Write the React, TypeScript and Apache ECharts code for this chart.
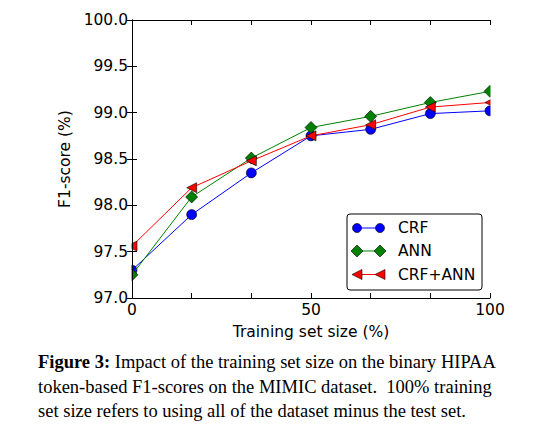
import { useEffect, useRef } from 'react';
import * as echarts from 'echarts';

const SANS = "'DejaVu Sans', 'Bitstream Vera Sans', sans-serif";
const SERIF = "'Liberation Serif', 'Times New Roman', serif";

// training set size (%), 7 steps of 1/6
const trainSizes = [0, 16.667, 33.333, 50, 66.667, 83.333, 100];
const seriesNames = ['CRF', 'ANN', 'CRF+ANN'];
const crfScores = [97.3, 97.9, 98.35, 98.75, 98.82, 98.99, 99.02];
const annScores = [97.25, 98.09, 98.51, 98.84, 98.96, 99.11, 99.23];
const crfAnnScores = [97.56, 98.19, 98.48, 98.75, 98.87, 99.06, 99.11];
const seriesColors = ['#0000ff', '#008000', '#ff0000'];

const captionLines = [
  '{b|Figure 3:} Impact of the training set size on the binary HIPAA',
  'token-based F1-scores on the MIMIC dataset.  100% training',
  'set size refers to using all of the dataset minus the test set.',
];

const tickFont = { fontFamily: SANS, fontSize: 15.5, color: '#000' };

function frame(extra: Record<string, unknown>) {
  return {
    type: 'value',
    z: 10,
    axisLine: { show: true, lineStyle: { color: '#000', width: 1 } },
    axisTick: { show: true, inside: true, length: 5, lineStyle: { color: '#000', width: 1 } },
    splitLine: { show: false },
    ...extra,
  };
}

function legendGraphic() {
  const left = 347;
  const top = 214;
  const rows = [228, 251, 274.5];
  const children: any[] = [
    {
      type: 'rect',
      shape: { x: left, y: top, width: 135, height: 76, r: 3 },
      style: { fill: '#fff', stroke: '#000', lineWidth: 1 },
    },
  ];
  rows.forEach((y, i) => {
    const color = seriesColors[i];
    const x1 = 357;
    const x2 = 380;
    children.push({
      type: 'line',
      shape: { x1, y1: y, x2, y2: y },
      style: { stroke: color, lineWidth: 1 },
    });
    [x1, x2].forEach((x) => {
      if (i === 0) {
        children.push({
          type: 'circle',
          shape: { cx: x, cy: y, r: 4.5 },
          style: { fill: color, stroke: '#000', lineWidth: 0.6 },
        });
      } else if (i === 1) {
        children.push({
          type: 'polygon',
          shape: { points: [[x - 6, y], [x, y - 6], [x + 6, y], [x, y + 6]] },
          style: { fill: color, stroke: '#000', lineWidth: 0.6 },
        });
      } else {
        children.push({
          type: 'polygon',
          shape: { points: [[x - 5, y], [x + 5, y - 5], [x + 5, y + 5]] },
          style: { fill: color, stroke: '#000', lineWidth: 0.6 },
        });
      }
    });
    children.push({
      type: 'text',
      x: 398,
      y,
      style: {
        text: seriesNames[i],
        fontFamily: SANS,
        fontSize: 15.5,
        fill: '#000',
        verticalAlign: 'middle',
      },
    });
  });
  return { type: 'group', z: 20, children };
}

export default function App() {
  const chartRef = useRef<HTMLDivElement>(null);

  useEffect(() => {
    if (!chartRef.current) return;
    const chart = echarts.init(chartRef.current, null, { renderer: 'svg' });

    const symbolStyle = { borderColor: '#000', borderWidth: 0.6 };
    const points = (values: number[]) => trainSizes.map((x, i) => [x, values[i]]);

    const option: echarts.EChartsOption = {
      animation: false,
      backgroundColor: '#fff',
      grid: { left: 132, right: 50, top: 20, bottom: 135, containLabel: false },
      xAxis: [
        frame({
          min: 0,
          max: 100,
          interval: 100 / 6,
          position: 'bottom',
          name: 'Training set size (%)',
          nameLocation: 'middle',
          nameGap: 26,
          nameTextStyle: { fontFamily: SANS, fontSize: 15.5, color: '#000' },
          axisLabel: {
            ...tickFont,
            margin: 4,
            showMinLabel: true,
            showMaxLabel: true,
            formatter: (v: number) =>
              Math.abs(v - Math.round(v / 50) * 50) < 0.01 ? String(Math.round(v)) : '',
          },
        }),
        frame({
          min: 0,
          max: 100,
          interval: 100 / 6,
          position: 'top',
          axisLabel: { show: false },
        }),
      ] as any,
      yAxis: [
        frame({
          min: 97,
          max: 100,
          interval: 0.5,
          position: 'left',
          name: 'F1-score (%)',
          nameLocation: 'middle',
          nameGap: 52,
          nameTextStyle: { fontFamily: SANS, fontSize: 15.5, color: '#000' },
          axisLabel: { ...tickFont, margin: 4, formatter: (v: number) => v.toFixed(1) },
        }),
        frame({
          min: 97,
          max: 100,
          interval: 0.5,
          position: 'right',
          axisLabel: { show: false },
        }),
      ] as any,
      series: [
        {
          name: seriesNames[0],
          type: 'line',
          data: points(crfScores),
          symbol: 'circle',
          symbolSize: 10,
          lineStyle: { color: seriesColors[0], width: 1 },
          itemStyle: { color: seriesColors[0], ...symbolStyle },
          z: 2,
        },
        {
          name: seriesNames[1],
          type: 'line',
          data: points(annScores),
          symbol: 'diamond',
          symbolSize: 12,
          lineStyle: { color: seriesColors[1], width: 1 },
          itemStyle: { color: seriesColors[1], ...symbolStyle },
          z: 3,
        },
        {
          name: seriesNames[2],
          type: 'line',
          data: points(crfAnnScores),
          symbol: 'triangle',
          symbolSize: 10,
          symbolRotate: 90,
          lineStyle: { color: seriesColors[2], width: 1 },
          itemStyle: { color: seriesColors[2], ...symbolStyle },
          z: 4,
        },
      ],
      graphic: [
        // hide marker halves that fall outside the axes box
        { type: 'rect', z: 6, shape: { x: 118, y: 10, width: 13.5, height: 295 }, style: { fill: '#fff' } },
        { type: 'rect', z: 6, shape: { x: 490.5, y: 10, width: 12, height: 295 }, style: { fill: '#fff' } },
        legendGraphic(),
        ...captionLines.map((line, i) => ({
          type: 'text',
          z: 20,
          x: 38,
          y: 362 + i * 24.5,
          style: {
            text: line,
            fontFamily: SERIF,
            fontSize: 18.5,
            fill: '#000',
            verticalAlign: 'middle',
            rich: {
              b: { fontFamily: SERIF, fontSize: 18.5, fontWeight: 'bold', fill: '#000' },
            },
          },
        })),
      ] as any,
    };

    chart.setOption(option);
    return () => chart.dispose();
  }, []);

  return (
    <div
      ref={chartRef}
      style={{ position: 'absolute', left: 0, top: 0, width: 540, height: 433, background: '#fff' }}
    />
  );
}
